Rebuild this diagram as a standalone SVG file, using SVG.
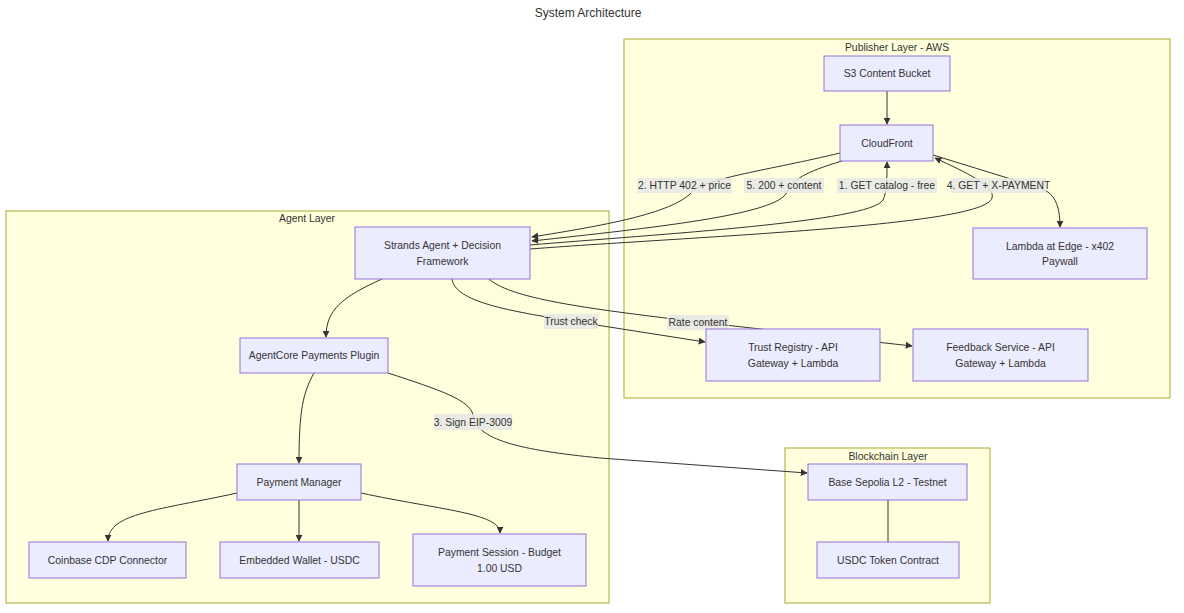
<svg xmlns="http://www.w3.org/2000/svg" width="1184" height="613" viewBox="0 0 1184 613">
<defs>
<marker id="arr" viewBox="0 0 10 10" refX="9" refY="5" markerWidth="7" markerHeight="7" markerUnits="userSpaceOnUse" orient="auto">
<path d="M0,0 L10,5 L0,10 z" fill="#333333"/>
</marker>
<style>
text{font-family:"Liberation Sans",Arial,sans-serif;fill:#333333;text-anchor:middle}
.t{font-size:10.4px}
.title{font-size:12px}
.cl{fill:#ffffde;stroke:#aaaa33;stroke-width:1}
.n{fill:#ECECFF;stroke:#9370DB;stroke-width:1}
.e{fill:none;stroke:#333333;stroke-width:1}
.a{marker-end:url(#arr)}
.lb{fill:#e8e8e8;opacity:0.85}
</style>
</defs>
<rect width="1184" height="613" fill="#ffffff"/>
<text class="title" x="588" y="17">System Architecture</text>

<g id="clusters">
<g id="publisher-layer"><rect class="cl" x="624" y="39" width="546" height="359"/><text class="t" x="897" y="51">Publisher Layer - AWS</text></g>
<g id="agent-layer"><rect class="cl" x="6" y="211" width="603" height="392"/><text class="t" x="307" y="222">Agent Layer</text></g>
<g id="blockchain-layer"><rect class="cl" x="785" y="448" width="205" height="155"/><text class="t" x="888" y="460">Blockchain Layer</text></g>
</g>

<g id="connectors">
<path class="e a" d="M887,91 L887,124"/>
<path class="e a" d="M933,155 L1040,188 C1054,193 1060,204 1060,227"/>
<path class="e a" d="M840,153 C770,170 705,178 692,192 C672,214 600,226 532,237"/>
<path class="e a" d="M842,161 C805,172 792,180 787,192 C778,215 650,228 532,241"/>
<path class="e a" d="M530,245 C660,234 870,222 883,200 C887,192 887,178 887,162"/>
<path class="e a" d="M530,249 C700,236 985,226 992,198 C996,186 965,172 935,158"/>
<path class="e a" d="M382,279 C342,297 326,310 326,337"/>
<path class="e a" d="M452,279 C455,302 510,311 571,321 L705,342"/>
<path class="e a" d="M489,279 C512,300 600,310 698,322 L912,346"/>
<path class="e a" d="M314,373 C303,393 299,410 299,463"/>
<path class="e a" d="M388,373 C440,390 470,400 473,415 C476,440 520,450 600,458 L807,473"/>
<path class="e a" d="M237,493 C160,510 108,513 108,541"/>
<path class="e a" d="M299,500 L299,541"/>
<path class="e a" d="M361,493 C440,510 500,513 500,533"/>
<path class="e" d="M888,500 L888,542"/>
</g>

<g id="edge-labels">
<g><rect class="lb" x="637" y="178" width="95" height="15"/><text class="t" x="684.5" y="189">2. HTTP 402 + price</text></g>
<g><rect class="lb" x="744" y="178" width="80" height="15"/><text class="t" x="784" y="189">5. 200 + content</text></g>
<g><rect class="lb" x="837" y="178" width="100" height="15"/><text class="t" x="887" y="189">1. GET catalog - free</text></g>
<g><rect class="lb" x="951" y="178" width="95" height="15"/><text class="t" x="998.5" y="189">4. GET + X-PAYMENT</text></g>
<g><rect class="lb" x="544" y="314" width="54" height="15"/><text class="t" x="571" y="325">Trust check</text></g>
<g><rect class="lb" x="667" y="315" width="62" height="15"/><text class="t" x="698" y="326">Rate content</text></g>
<g><rect class="lb" x="434" y="414" width="78" height="16"/><text class="t" x="473" y="426">3. Sign EIP-3009</text></g>
</g>

<g id="s3"><rect class="n" x="824" y="56" width="126" height="35"/><text class="t" x="887" y="77">S3 Content Bucket</text></g>
<g id="cloudfront"><rect class="n" x="840" y="125" width="93" height="36"/><text class="t" x="887" y="147">CloudFront</text></g>
<g id="lambda-edge"><rect class="n" x="973" y="228" width="174" height="51"/><text class="t" x="1060" y="250">Lambda at Edge - x402</text><text class="t" x="1060" y="265">Paywall</text></g>
<g id="trust-registry"><rect class="n" x="706" y="329" width="174" height="52"/><text class="t" x="793" y="351">Trust Registry - API</text><text class="t" x="793" y="367">Gateway + Lambda</text></g>
<g id="feedback-service"><rect class="n" x="913" y="329" width="175" height="52"/><text class="t" x="1000.5" y="351">Feedback Service - API</text><text class="t" x="1000.5" y="367">Gateway + Lambda</text></g>
<g id="strands-agent"><rect class="n" x="355" y="227" width="175" height="52"/><text class="t" x="442.5" y="249">Strands Agent + Decision</text><text class="t" x="442.5" y="265">Framework</text></g>
<g id="agentcore-plugin"><rect class="n" x="240" y="338" width="148" height="35"/><text class="t" x="314" y="359">AgentCore Payments Plugin</text></g>
<g id="payment-manager"><rect class="n" x="237" y="464" width="124" height="36"/><text class="t" x="299" y="486">Payment Manager</text></g>
<g id="coinbase-cdp"><rect class="n" x="29" y="542" width="157" height="36"/><text class="t" x="107.5" y="564">Coinbase CDP Connector</text></g>
<g id="embedded-wallet"><rect class="n" x="220" y="542" width="159" height="36"/><text class="t" x="299.5" y="564">Embedded Wallet - USDC</text></g>
<g id="payment-session"><rect class="n" x="413" y="534" width="173" height="52"/><text class="t" x="499.5" y="556">Payment Session - Budget</text><text class="t" x="499.5" y="572">1.00 USD</text></g>
<g id="base-sepolia"><rect class="n" x="808" y="464" width="159" height="36"/><text class="t" x="887.5" y="486">Base Sepolia L2 - Testnet</text></g>
<g id="usdc-contract"><rect class="n" x="817" y="542" width="142" height="36"/><text class="t" x="888" y="564">USDC Token Contract</text></g>
</svg>
